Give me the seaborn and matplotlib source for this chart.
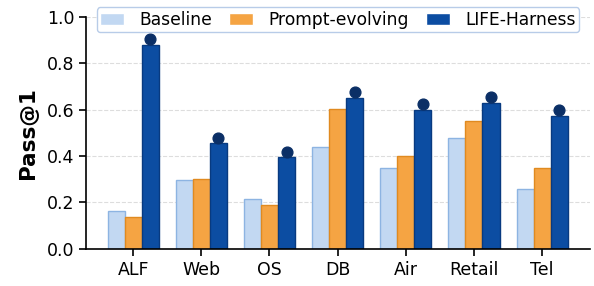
import pandas as pd
import seaborn as sns
import matplotlib.pyplot as plt

tasks = ['ALF', 'Web', 'OS', 'DB', 'Air', 'Retail', 'Tel']
baseline = [0.165, 0.295, 0.215, 0.44, 0.35, 0.48, 0.26]
prompt_evolving = [0.138, 0.30, 0.188, 0.605, 0.40, 0.55, 0.35]
life_harness = [0.88, 0.455, 0.397, 0.65, 0.60, 0.63, 0.575]
life_best = [0.905, 0.48, 0.42, 0.675, 0.625, 0.655, 0.60]

methods = ['Baseline', 'Prompt-evolving', 'LIFE-Harness']
fills = ['#c2d8f2', '#f5a443', '#0c4da2']
edges = ['#8db4e2', '#e08a20', '#083a80']

df = pd.DataFrame({
    'Task': tasks * 3,
    'Method': [m for m in methods for _ in tasks],
    'Pass@1': baseline + prompt_evolving + life_harness,
})

sns.set_theme(style="ticks")
plt.rcParams['font.family'] = ['DejaVu Sans']
plt.rcParams['text.color'] = 'black'
plt.rcParams['xtick.color'] = 'black'
plt.rcParams['ytick.color'] = 'black'

fig = plt.figure(figsize=(5.94, 2.86), dpi=100)
ax = fig.add_axes([0.145, 0.13, 0.848, 0.81])

sns.barplot(data=df, x='Task', y='Pass@1', hue='Method', hue_order=methods,
            palette=fills, saturation=1, width=0.75, linewidth=1, ax=ax, legend=True)

for cont, ec in zip(ax.containers, edges):
    for p in cont:
        p.set_edgecolor(ec)

# dots on top of the LIFE-Harness bars
xs = [p.get_x() + p.get_width() / 2 for p in ax.containers[2]]
ax.scatter(xs, life_best, s=60, color='#0b2f66', zorder=5)

ax.set_ylim(0, 1.0)
ax.set_xlim(-0.69, 6.7)
ax.set_yticks([0, 0.2, 0.4, 0.6, 0.8, 1.0])
ax.set_yticklabels(['0.0', '0.2', '0.4', '0.6', '0.8', '1.0'])
ax.yaxis.grid(True, linestyle='--', color='#dddddd', linewidth=0.8)
ax.set_axisbelow(True)
ax.set_xlabel('')
ax.set_ylabel('Pass@1', fontsize=15.5, fontweight='bold', color='black', labelpad=6)
ax.tick_params(axis='both', labelsize=12.5, length=5, width=1.2, color='black')
for s in ['left', 'bottom']:
    ax.spines[s].set_color('black')
    ax.spines[s].set_linewidth(1.2)
sns.despine(ax=ax)

leg = ax.legend(loc='upper center', bbox_to_anchor=(0.5, 1.08), ncol=3,
                fontsize=12.3, frameon=True, borderpad=0.2, handlelength=1.4,
                columnspacing=1.0, handletextpad=0.9)
leg.get_frame().set_edgecolor('#b8cce8')
leg.get_frame().set_linewidth(1)
leg.get_frame().set_alpha(1)

fig.savefig('out.png', dpi=100)
